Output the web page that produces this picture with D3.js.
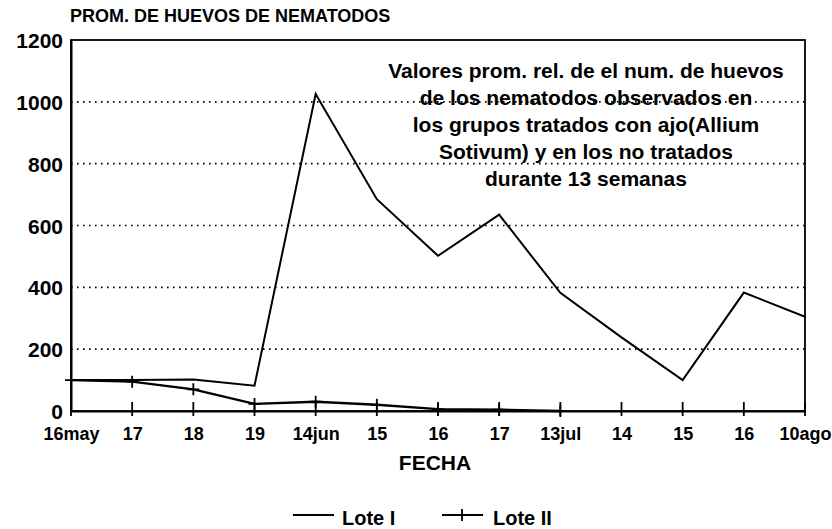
<!DOCTYPE html>
<html>
<head>
<meta charset="utf-8">
<script src="https://cdn.jsdelivr.net/npm/d3@7"></script>
<style>
  body { margin: 0; background: #fff; }
  svg text { font-family: "Liberation Sans", Arial, sans-serif; font-weight: bold; fill: #000; }
</style>
</head>
<body>
<svg id="chart" width="832" height="529"></svg>
<script>
// data
const fechas = ["16may", "17", "18", "19", "14jun", "15", "16", "17b", "13jul", "14b", "15b", "16b", "10ago"];
const fechaLabels = ["16may", "17", "18", "19", "14jun", "15", "16", "17", "13jul", "14", "15", "16", "10ago"];
const lote1 = [100, 100, 102, 82, 1025, 685, 502, 635, 382, 238, 100, 383, 305];
const lote2 = [100, 95, 70, 23, 30, 20, 6, 4, 0];
const yTicks = [0, 200, 400, 600, 800, 1000, 1200];
const noteLines = [
  "Valores prom. rel. de el num. de huevos",
  "de los nematodos observados en",
  "los grupos tratados con ajo(Allium",
  "Sotivum) y en los no tratados",
  "durante 13 semanas"
];

const svg = d3.select("#chart");
const margin = { top: 40, left: 71, right: 27, bottom: 118 };
const width = 832 - margin.left - margin.right;
const height = 529 - margin.top - margin.bottom;

const g = svg.append("g").attr("transform", `translate(${margin.left},${margin.top})`);

const x = d3.scalePoint().domain(fechas).range([0, width]).padding(0);
const y = d3.scaleLinear().domain([0, 1200]).range([height, 0]);

// dotted grid
g.selectAll(".grid")
  .data(yTicks.filter(d => d > 0 && d < 1200))
  .enter().append("line")
  .attr("x1", 0).attr("x2", width)
  .attr("y1", d => y(d)).attr("y2", d => y(d))
  .attr("stroke", "#000").attr("stroke-width", 1.6)
  .attr("stroke-dasharray", "1.6,4.4");

// frame
g.append("rect")
  .attr("x", 0).attr("y", 0).attr("width", width).attr("height", height)
  .attr("fill", "none").attr("stroke", "#000").attr("stroke-width", 1.8);

// y axis
const yAxis = g.append("g")
  .call(d3.axisLeft(y).tickValues(yTicks).tickFormat(d3.format("d")).tickSize(0).tickPadding(8));
yAxis.select(".domain").attr("stroke-width", 2);
yAxis.selectAll("text").style("font-size", "21px").attr("dy", "0.36em");

// x axis
const xAxis = g.append("g")
  .attr("transform", `translate(0,${height})`)
  .call(d3.axisBottom(x).tickSize(0).tickPadding(29).tickFormat((d, i) => fechaLabels[i]));
xAxis.select(".domain").attr("stroke-width", 2.2);
xAxis.selectAll("text").style("font-size", "18px").attr("dy", "0");

g.selectAll(".xtick")
  .data(fechas)
  .enter().append("line")
  .attr("x1", d => x(d)).attr("x2", d => x(d))
  .attr("y1", height - 9).attr("y2", height + 5)
  .attr("stroke", "#000").attr("stroke-width", 1.8);

// lines
const line1 = d3.line().x((d, i) => x(fechas[i])).y(d => y(d));
g.append("path")
  .datum(lote1)
  .attr("d", line1)
  .attr("fill", "none").attr("stroke", "#000").attr("stroke-width", 2);

g.append("path")
  .datum(lote2)
  .attr("d", line1)
  .attr("fill", "none").attr("stroke", "#000").attr("stroke-width", 2.4);

g.selectAll(".mark2")
  .data(lote2)
  .enter().append("path")
  .attr("d", (d, i) => {
    const cx = x(fechas[i]), cy = y(d);
    return `M${cx - 6},${cy}H${cx + 6}M${cx},${cy - 6}V${cy + 6}`;
  })
  .attr("stroke", "#000").attr("stroke-width", 1.8);

// titles
svg.append("text")
  .attr("x", 70).attr("y", 22)
  .style("font-size", "18px")
  .text("PROM. DE HUEVOS DE NEMATODOS");

svg.append("text")
  .attr("x", 435).attr("y", 470)
  .attr("text-anchor", "middle")
  .style("font-size", "21px")
  .text("FECHA");

// annotation
const note = svg.append("text")
  .attr("text-anchor", "middle")
  .style("font-size", "21px");
note.selectAll("tspan")
  .data(noteLines)
  .enter().append("tspan")
  .attr("x", 586)
  .attr("y", (d, i) => 78 + i * 27)
  .text(d => d);

// legend
const leg = svg.append("g");
leg.append("line").attr("x1", 293).attr("x2", 334).attr("y1", 515).attr("y2", 515)
  .attr("stroke", "#000").attr("stroke-width", 2);
leg.append("text").attr("x", 342).attr("y", 525).style("font-size", "20px").text("Lote I");
leg.append("line").attr("x1", 442).attr("x2", 483).attr("y1", 515).attr("y2", 515)
  .attr("stroke", "#000").attr("stroke-width", 2);
leg.append("path").attr("d", "M462,509V521").attr("stroke", "#000").attr("stroke-width", 1.8);
leg.append("text").attr("x", 493).attr("y", 525).style("font-size", "20px").text("Lote II");
</script>
</body>
</html>
